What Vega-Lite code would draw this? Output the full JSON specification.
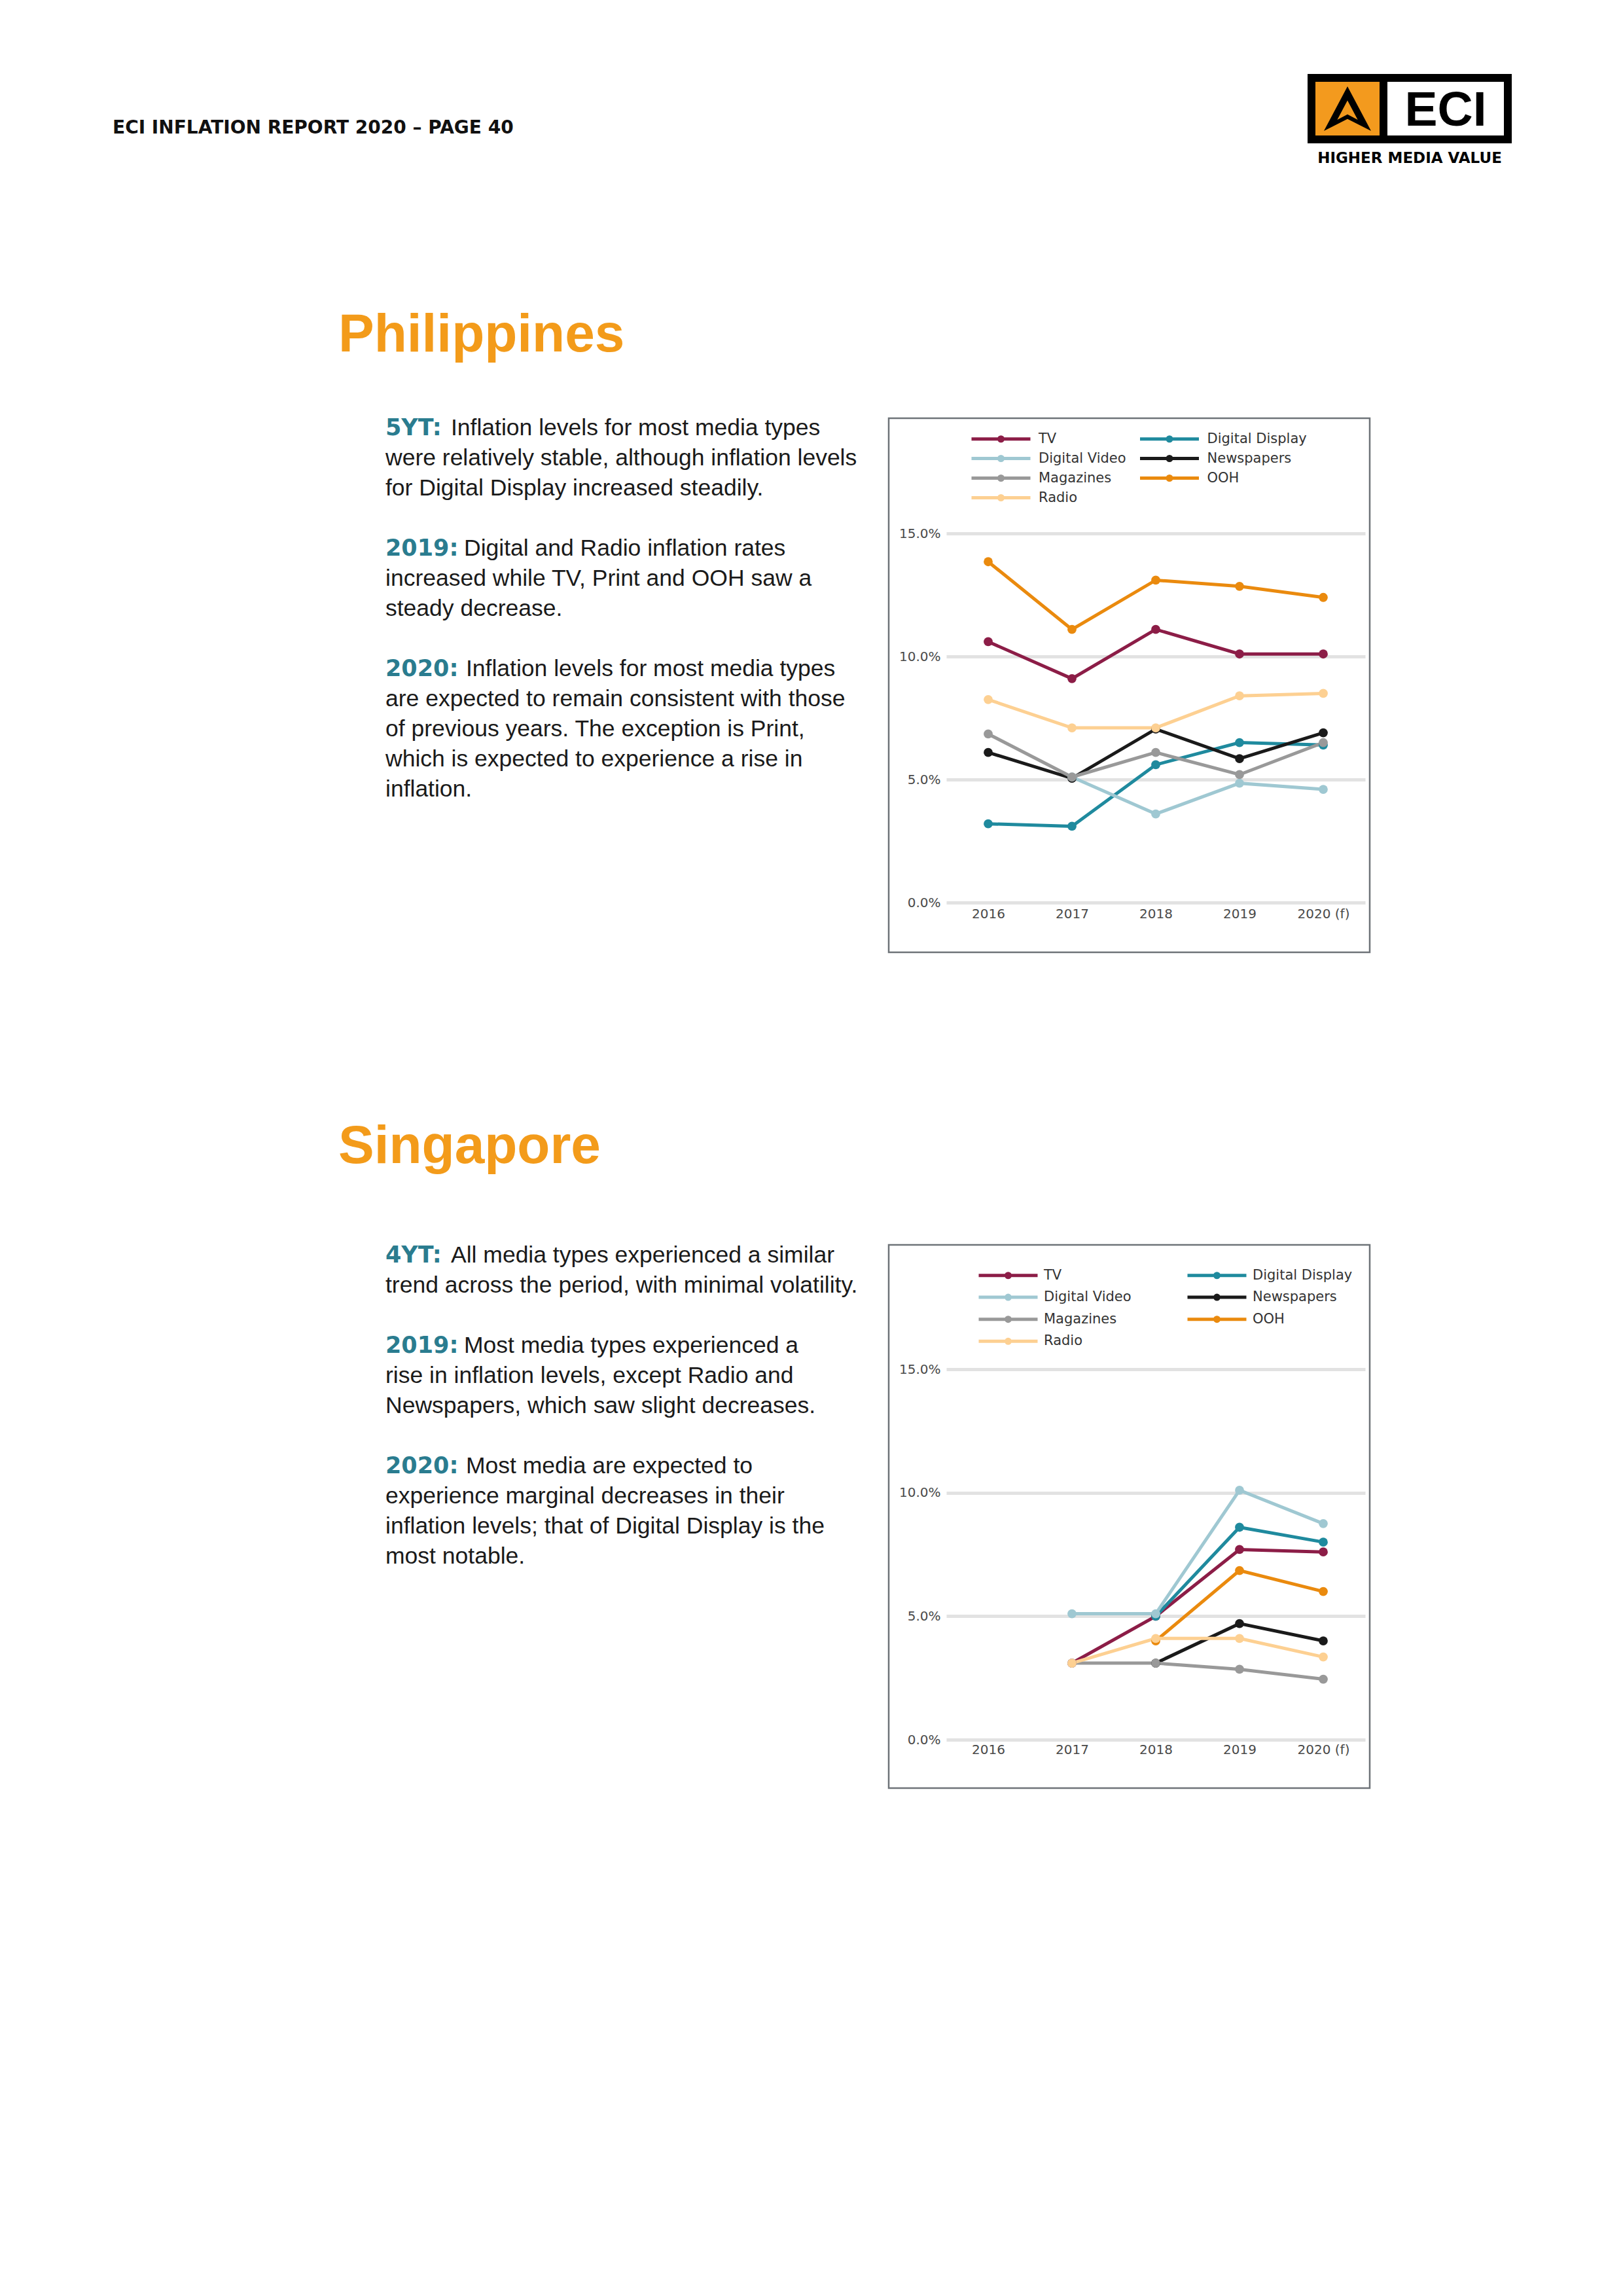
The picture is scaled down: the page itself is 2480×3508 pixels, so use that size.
{
  "$schema": "https://vega.github.io/schema/vega-lite/v6.json",
  "background": "white",
  "padding": {"left": 172, "top": 113, "right": 0, "bottom": 0},
  "config": {
    "view": {"stroke": null},
    "font": "DejaVu Sans"
  },
  "datasets": {
    "philippines": [
      {"media": "TV", "year": "2016", "value": 10.6},
      {"media": "TV", "year": "2017", "value": 9.1},
      {"media": "TV", "year": "2018", "value": 11.1},
      {"media": "TV", "year": "2019", "value": 10.1},
      {"media": "TV", "year": "2020 (f)", "value": 10.1},
      {"media": "Digital Display", "year": "2016", "value": 3.2},
      {"media": "Digital Display", "year": "2017", "value": 3.1},
      {"media": "Digital Display", "year": "2018", "value": 5.6},
      {"media": "Digital Display", "year": "2019", "value": 6.5},
      {"media": "Digital Display", "year": "2020 (f)", "value": 6.4},
      {"media": "Newspapers", "year": "2016", "value": 6.1},
      {"media": "Newspapers", "year": "2017", "value": 5.05},
      {"media": "Newspapers", "year": "2018", "value": 7.05},
      {"media": "Newspapers", "year": "2019", "value": 5.85},
      {"media": "Newspapers", "year": "2020 (f)", "value": 6.9},
      {"media": "OOH", "year": "2016", "value": 13.85},
      {"media": "OOH", "year": "2017", "value": 11.1},
      {"media": "OOH", "year": "2018", "value": 13.1},
      {"media": "OOH", "year": "2019", "value": 12.85},
      {"media": "OOH", "year": "2020 (f)", "value": 12.4},
      {"media": "Digital Video", "year": "2017", "value": 5.1},
      {"media": "Digital Video", "year": "2018", "value": 3.6},
      {"media": "Digital Video", "year": "2019", "value": 4.85},
      {"media": "Digital Video", "year": "2020 (f)", "value": 4.6},
      {"media": "Magazines", "year": "2016", "value": 6.85},
      {"media": "Magazines", "year": "2017", "value": 5.1},
      {"media": "Magazines", "year": "2018", "value": 6.1},
      {"media": "Magazines", "year": "2019", "value": 5.2},
      {"media": "Magazines", "year": "2020 (f)", "value": 6.5},
      {"media": "Radio", "year": "2016", "value": 8.25},
      {"media": "Radio", "year": "2017", "value": 7.1},
      {"media": "Radio", "year": "2018", "value": 7.1},
      {"media": "Radio", "year": "2019", "value": 8.4},
      {"media": "Radio", "year": "2020 (f)", "value": 8.5}
    ],
    "singapore": [
      {"media": "TV", "year": "2017", "value": 3.1},
      {"media": "TV", "year": "2018", "value": 5.0},
      {"media": "TV", "year": "2019", "value": 7.7},
      {"media": "TV", "year": "2020 (f)", "value": 7.6},
      {"media": "Digital Display", "year": "2018", "value": 5.0},
      {"media": "Digital Display", "year": "2019", "value": 8.6},
      {"media": "Digital Display", "year": "2020 (f)", "value": 8.0},
      {"media": "Newspapers", "year": "2018", "value": 3.1},
      {"media": "Newspapers", "year": "2019", "value": 4.7},
      {"media": "Newspapers", "year": "2020 (f)", "value": 4.0},
      {"media": "OOH", "year": "2018", "value": 4.0},
      {"media": "OOH", "year": "2019", "value": 6.85},
      {"media": "OOH", "year": "2020 (f)", "value": 6.0},
      {"media": "Digital Video", "year": "2017", "value": 5.1},
      {"media": "Digital Video", "year": "2018", "value": 5.1},
      {"media": "Digital Video", "year": "2019", "value": 10.1},
      {"media": "Digital Video", "year": "2020 (f)", "value": 8.75},
      {"media": "Magazines", "year": "2017", "value": 3.1},
      {"media": "Magazines", "year": "2018", "value": 3.1},
      {"media": "Magazines", "year": "2019", "value": 2.85},
      {"media": "Magazines", "year": "2020 (f)", "value": 2.45},
      {"media": "Radio", "year": "2017", "value": 3.1},
      {"media": "Radio", "year": "2018", "value": 4.1},
      {"media": "Radio", "year": "2019", "value": 4.1},
      {"media": "Radio", "year": "2020 (f)", "value": 3.35}
    ],
    "phil_text": [
      {"line": 0, "para": 1, "lead": "5YT:", "text": "Inflation levels for most media types"},
      {"line": 1, "para": 1, "lead": "", "text": "were relatively stable, although inflation levels"},
      {"line": 2, "para": 1, "lead": "", "text": "for Digital Display increased steadily."},
      {"line": 4, "para": 2, "lead": "2019:", "text": "Digital and Radio inflation rates"},
      {"line": 5, "para": 2, "lead": "", "text": "increased while TV, Print and OOH saw a"},
      {"line": 6, "para": 2, "lead": "", "text": "steady decrease."},
      {"line": 8, "para": 3, "lead": "2020:", "text": "Inflation levels for most media types"},
      {"line": 9, "para": 3, "lead": "", "text": "are expected to remain consistent with those"},
      {"line": 10, "para": 3, "lead": "", "text": "of previous years. The exception is Print,"},
      {"line": 11, "para": 3, "lead": "", "text": "which is expected to experience a rise in"},
      {"line": 12, "para": 3, "lead": "", "text": "inflation."}
    ],
    "sing_text": [
      {"line": 0, "para": 1, "lead": "4YT:", "text": "All media types experienced a similar"},
      {"line": 1, "para": 1, "lead": "", "text": "trend across the period, with minimal volatility."},
      {"line": 3, "para": 2, "lead": "2019:", "text": "Most media types experienced a"},
      {"line": 4, "para": 2, "lead": "", "text": "rise in inflation levels, except Radio and"},
      {"line": 5, "para": 2, "lead": "", "text": "Newspapers, which saw slight decreases."},
      {"line": 7, "para": 3, "lead": "2020:", "text": "Most media are expected to"},
      {"line": 8, "para": 3, "lead": "", "text": "experience marginal decreases in their"},
      {"line": 9, "para": 3, "lead": "", "text": "inflation levels; that of Digital Display is the"},
      {"line": 10, "para": 3, "lead": "", "text": "most notable."}
    ]
  },
  "resolve": {"scale": {"color": "independent"}, "legend": {"color": "independent"}},
  "spacing": 217,
  "vconcat": [
    {
      "hconcat": [
        {
          "width": 1832,
          "height": 94,
          "data": {"values": [{"header": "ECI INFLATION REPORT 2020 – PAGE 40"}]},
          "mark": {"type": "text", "align": "left", "baseline": "alphabetic", "x": 0, "y": 85, "font": "DejaVu Sans", "fontWeight": "bold", "fontSize": 28, "color": "#111111"},
          "encoding": {"text": {"field": "header"}}
        },
        {
          "hconcat": [
            {
              "width": 110,
              "height": 94,
              "view": {"fill": "#F39A1E", "stroke": "#000000", "strokeWidth": 12},
              "data": {"values": [{"k": "arrow"}]},
              "mark": {"type": "point", "shape": "M0,-1L1.06,1L0,0.46L-1.06,1Z M0,-0.37L-0.46,0.5L0,0.26L0.46,0.5Z", "filled": true, "color": "#000000", "size": 4624, "opacity": 1}
            },
            {
              "width": 190,
              "height": 94,
              "view": {"fill": "#FFFFFF", "stroke": "#000000", "strokeWidth": 12},
              "data": {"values": [{"label": "ECI"}]},
              "mark": {"type": "text", "align": "center", "baseline": "middle", "dy": 3, "font": "Liberation Sans", "fontWeight": "bold", "fontSize": 75, "color": "#000000"},
              "encoding": {"text": {"field": "label"}}
            }
          ],
          "spacing": 0,
          "bounds": "flush",
          "title": {"text": "HIGHER MEDIA VALUE", "orient": "bottom", "anchor": "middle", "font": "DejaVu Sans", "fontWeight": "bold", "fontSize": 23, "offset": 12, "color": "#000000"}
        }
      ],
      "spacing": 0,
      "bounds": "flush"
    },
    {
      "resolve": {"scale": {"color": "independent"}, "legend": {"color": "independent"}},
      "spacing": 254,
      "vconcat": [
        {
          "resolve": {"scale": {"color": "independent"}, "legend": {"color": "independent"}},
          "hconcat": [
            {
              "width": 1186,
              "height": 816,
              "data": {"name": "phil_text"},
              "title": {"text": "Philippines", "anchor": "start", "frame": "group", "dx": 345, "offset": 18, "baseline": "alphabetic", "font": "Liberation Sans", "fontWeight": "bold", "fontSize": 82, "color": "#F39B1A"},
              "encoding": {"y": {"field": "line", "type": "quantitative", "scale": {"domain": [0, 12], "range": [15, 567]}, "axis": null}},
              "layer": [
                {"transform": [{"filter": "datum.lead != ''"}], "mark": {"type": "text", "align": "left", "baseline": "middle", "x": 417, "font": "DejaVu Sans", "fontWeight": "bold", "fontSize": 35, "color": "#2A7C8F"}, "encoding": {"text": {"field": "lead"}}},
                {"transform": [{"filter": "datum.lead != '' && datum.para == 1"}], "mark": {"type": "text", "align": "left", "baseline": "middle", "x": 417, "dx": 100, "font": "Liberation Sans", "fontSize": 35.5, "color": "#1A1A1A"}, "encoding": {"text": {"field": "text"}}},
                {"transform": [{"filter": "datum.lead != '' && datum.para == 2"}], "mark": {"type": "text", "align": "left", "baseline": "middle", "x": 417, "dx": 120, "font": "Liberation Sans", "fontSize": 35.5, "color": "#1A1A1A"}, "encoding": {"text": {"field": "text"}}},
                {"transform": [{"filter": "datum.lead != '' && datum.para == 3"}], "mark": {"type": "text", "align": "left", "baseline": "middle", "x": 417, "dx": 123, "font": "Liberation Sans", "fontSize": 35.5, "color": "#1A1A1A"}, "encoding": {"text": {"field": "text"}}},
                {"transform": [{"filter": "datum.lead == ''"}], "mark": {"type": "text", "align": "left", "baseline": "middle", "x": 417, "font": "Liberation Sans", "fontSize": 35.5, "color": "#1A1A1A"}, "encoding": {"text": {"field": "text"}}}
              ]
            },
            {
              "width": 735,
              "height": 816,
              "view": {"stroke": "#6E7378", "strokeWidth": 2.5},
              "data": {"name": "philippines"},
              "encoding": {
                "x": {"field": "year", "type": "ordinal", "scale": {"type": "point", "domain": ["2016", "2017", "2018", "2019", "2020 (f)"], "range": [88, 728], "padding": 0.5}, "axis": {"title": null, "domain": false, "ticks": false, "tickSize": 0, "grid": false, "labelAngle": 0, "labelPadding": 2, "offset": -71, "labelFont": "DejaVu Sans", "labelFontSize": 20, "labelColor": "#4A4A4A"}},
                "y": {"field": "value", "type": "quantitative", "scale": {"domain": [0, 15], "range": [740, 176], "nice": false, "zero": false}, "axis": {"title": null, "values": [0, 5, 10, 15], "labelExpr": "format(datum.value, '.1f') + '%'", "domain": false, "ticks": false, "tickSize": 0, "labelPadding": 2, "offset": -81, "grid": true, "gridColor": "#E2E2E2", "gridWidth": 5, "labelFont": "DejaVu Sans", "labelFontSize": 20, "labelColor": "#4A4A4A"}},
                "color": {"field": "media", "type": "nominal", "scale": {"domain": ["TV", "Digital Display", "Digital Video", "Newspapers", "Magazines", "OOH", "Radio"], "range": ["#8C1D47", "#1F8A9E", "#9FC8D2", "#1A1A1A", "#999999", "#EA8A0E", "#FDD092"]}, "legend": {"title": null, "orient": "none", "direction": "horizontal", "legendX": 159, "legendY": 19, "columns": 2, "padding": 0, "symbolType": "M-4.5,0H4.5M-0.3,0A0.3,0.3 0 1,0 0.3,0A0.3,0.3 0 1,0 -0.3,0", "symbolSize": 400, "symbolStrokeWidth": 5, "labelFont": "DejaVu Sans", "labelFontSize": 21, "labelColor": "#333333", "labelOffset": 45, "rowPadding": 3, "columnPadding": 10.5, "labelLimit": 400}}
              },
              "layer": [
                {"mark": {"type": "line", "strokeWidth": 5}},
                {"mark": {"type": "point", "filled": true, "size": 190, "opacity": 1}}
              ]
            }
          ],
          "spacing": 0,
          "bounds": "flush"
        },
        {
          "resolve": {"scale": {"color": "independent"}, "legend": {"color": "independent"}},
          "hconcat": [
            {
              "width": 1186,
              "height": 830,
              "data": {"name": "sing_text"},
              "title": {"text": "Singapore", "anchor": "start", "frame": "group", "dx": 345, "offset": 42, "baseline": "alphabetic", "font": "Liberation Sans", "fontWeight": "bold", "fontSize": 82, "color": "#F39B1A"},
              "encoding": {"y": {"field": "line", "type": "quantitative", "scale": {"domain": [0, 12], "range": [16, 568]}, "axis": null}},
              "layer": [
                {"transform": [{"filter": "datum.lead != ''"}], "mark": {"type": "text", "align": "left", "baseline": "middle", "x": 417, "font": "DejaVu Sans", "fontWeight": "bold", "fontSize": 35, "color": "#2A7C8F"}, "encoding": {"text": {"field": "lead"}}},
                {"transform": [{"filter": "datum.lead != '' && datum.para == 1"}], "mark": {"type": "text", "align": "left", "baseline": "middle", "x": 417, "dx": 100, "font": "Liberation Sans", "fontSize": 35.5, "color": "#1A1A1A"}, "encoding": {"text": {"field": "text"}}},
                {"transform": [{"filter": "datum.lead != '' && datum.para == 2"}], "mark": {"type": "text", "align": "left", "baseline": "middle", "x": 417, "dx": 120, "font": "Liberation Sans", "fontSize": 35.5, "color": "#1A1A1A"}, "encoding": {"text": {"field": "text"}}},
                {"transform": [{"filter": "datum.lead != '' && datum.para == 3"}], "mark": {"type": "text", "align": "left", "baseline": "middle", "x": 417, "dx": 123, "font": "Liberation Sans", "fontSize": 35.5, "color": "#1A1A1A"}, "encoding": {"text": {"field": "text"}}},
                {"transform": [{"filter": "datum.lead == ''"}], "mark": {"type": "text", "align": "left", "baseline": "middle", "x": 417, "font": "Liberation Sans", "fontSize": 35.5, "color": "#1A1A1A"}, "encoding": {"text": {"field": "text"}}}
              ]
            },
            {
              "width": 735,
              "height": 830,
              "view": {"stroke": "#6E7378", "strokeWidth": 2.5},
              "data": {"name": "singapore"},
              "encoding": {
                "x": {"field": "year", "type": "ordinal", "scale": {"type": "point", "domain": ["2016", "2017", "2018", "2019", "2020 (f)"], "range": [88, 728], "padding": 0.5}, "axis": {"title": null, "domain": false, "ticks": false, "tickSize": 0, "grid": false, "labelAngle": 0, "labelPadding": 2, "offset": -71, "labelFont": "DejaVu Sans", "labelFontSize": 20, "labelColor": "#4A4A4A"}},
                "y": {"field": "value", "type": "quantitative", "scale": {"domain": [0, 15], "range": [756, 190], "nice": false, "zero": false}, "axis": {"title": null, "values": [0, 5, 10, 15], "labelExpr": "format(datum.value, '.1f') + '%'", "domain": false, "ticks": false, "tickSize": 0, "labelPadding": 2, "offset": -81, "grid": true, "gridColor": "#E2E2E2", "gridWidth": 5, "labelFont": "DejaVu Sans", "labelFontSize": 20, "labelColor": "#4A4A4A"}},
                "color": {"field": "media", "type": "nominal", "scale": {"domain": ["TV", "Digital Display", "Digital Video", "Newspapers", "Magazines", "OOH", "Radio"], "range": ["#8C1D47", "#1F8A9E", "#9FC8D2", "#1A1A1A", "#999999", "#EA8A0E", "#FDD092"]}, "legend": {"title": null, "orient": "none", "direction": "horizontal", "legendX": 170, "legendY": 34, "columns": 2, "padding": 0, "symbolType": "M-4.5,0H4.5M-0.3,0A0.3,0.3 0 1,0 0.3,0A0.3,0.3 0 1,0 -0.3,0", "symbolSize": 400, "symbolStrokeWidth": 5, "labelFont": "DejaVu Sans", "labelFontSize": 21, "labelColor": "#333333", "labelOffset": 42, "rowPadding": 6.6, "columnPadding": 75, "labelLimit": 400}}
              },
              "layer": [
                {"mark": {"type": "line", "strokeWidth": 5}},
                {"mark": {"type": "point", "filled": true, "size": 190, "opacity": 1}}
              ]
            }
          ],
          "spacing": 0,
          "bounds": "flush"
        }
      ]
    }
  ]
}
